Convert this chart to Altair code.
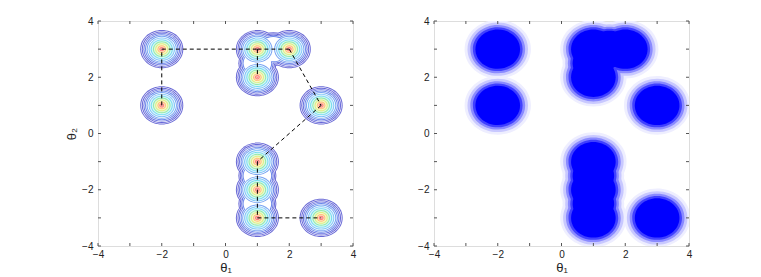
import altair as alt
import pandas as pd

# ---------------- data ----------------
CENTERS_X = [-2, -2, 1, 2, 1, 3, 1, 1, 1, 3]
CENTERS_Y = [3, 1, 3, 3, 2, 1, -1, -2, -3, -3]

# waists where neighbouring modes visibly merge
BRIDGE_X = [1, 1, 1.5, 1]
BRIDGE_Y = [-1.5, -2.5, 3, 2.5]

# contour ring radii (theta units) around every mode, outer -> inner
RING_RADII = [0.66, 0.61, 0.56, 0.51, 0.46, 0.40, 0.33, 0.26, 0.19, 0.12, 0.06]

# dashed tree edges
EDGE_X1 = [-2, -2, 1, 1, 2, 3, 1, 1, 1]
EDGE_Y1 = [1, 3, 3, 3, 3, 1, -1, -2, -3]
EDGE_X2 = [-2, 1, 2, 1, 3, 1, 1, 1, 3]
EDGE_Y2 = [3, 3, 3, 2, 1, -1, -2, -3, -3]

# sample-cloud extents (theta units), sparse edge -> dense core
CLOUD_RADII = [1.04, 0.95, 0.86, 0.78, 0.70]

TICKS = [-4, -3, -2, -1, 0, 1, 2, 3, 4]

# ---------------- styles ----------------
RING_LINE = ["#6a6ad6", "#6666d8", "#6672e0", "#6c88ea", "#78a4f2",
             "#7cc6f6", "#74deec", "#94eaa8", "#e0ee84", "#ffc07c", "#ff8080"]
RING_GAP = ["white", "white", "white", "white", "white",
            "#dceeff", "#d6f6f8", "#e0f8dc", "#f8f8c8", "#ffe0c0", "#ffb4ac"]
BRIDGE_LEVELS = 4
BRIDGE_FACTOR = 0.88
CLOUD_COLORS = ["#eeeeff", "#c8c8ff", "#8a8aff", "#4040ff", "#0000ff"]
CLOUD_BRIDGE_FACTOR = 0.93

W, H = 255, 225
PX = W / 8.0                      # pixels per theta unit (x)
ASPECT = (H / 8.0) / (W / 8.0)    # ellipse y/x ratio
HALF_LINE = 0.5 / PX
ELLIPSE = (f"M -1 0 A 1 {ASPECT:.4f} 0 1 0 1 0 "
           f"A 1 {ASPECT:.4f} 0 1 0 -1 0 Z")
FONT = "Liberation Sans"

rows = []
for k, r in enumerate(RING_RADII):
    pts = list(zip(CENTERS_X, CENTERS_Y))
    if k < BRIDGE_LEVELS:
        pts_b = list(zip(BRIDGE_X, BRIDGE_Y))
    else:
        pts_b = []
    for cx, cy in pts:
        rows.append(dict(x=cx, y=cy, r=r + HALF_LINE, col=RING_LINE[k], o=2 * k))
    for cx, cy in pts_b:
        rows.append(dict(x=cx, y=cy, r=r * BRIDGE_FACTOR + HALF_LINE, col=RING_LINE[k], o=2 * k))
    for cx, cy in pts:
        rows.append(dict(x=cx, y=cy, r=r - HALF_LINE, col=RING_GAP[k], o=2 * k + 1))
    for cx, cy in pts_b:
        rows.append(dict(x=cx, y=cy, r=r * BRIDGE_FACTOR - HALF_LINE, col=RING_GAP[k], o=2 * k + 1))
rings = pd.DataFrame(rows)

crow = []
for k, r in enumerate(CLOUD_RADII):
    for cx, cy in zip(CENTERS_X, CENTERS_Y):
        crow.append(dict(x=cx, y=cy, r=r, col=CLOUD_COLORS[k], o=k))
    for cx, cy in zip(BRIDGE_X, BRIDGE_Y):
        crow.append(dict(x=cx, y=cy, r=r * CLOUD_BRIDGE_FACTOR, col=CLOUD_COLORS[k], o=k))
clouds = pd.DataFrame(crow)

edges = pd.DataFrame(dict(x=EDGE_X1, y=EDGE_Y1, x2=EDGE_X2, y2=EDGE_Y2))
ticks = pd.DataFrame(dict(t=TICKS))

xscale = alt.Scale(domain=[-4, 4], nice=False, zero=False)
yscale = alt.Scale(domain=[-4, 4], nice=False, zero=False)
sscale = alt.Scale(type="pow", exponent=2, domain=[0, 1], range=[0, (2 * PX) ** 2])


def xaxis():
    return alt.Axis(values=TICKS, ticks=False, domain=False, grid=False,
                    labelFlush=False, labelFontSize=10, labelFont=FONT,
                    labelColor="#222", labelPadding=3, title="θ₁",
                    titleFont=FONT, titleFontSize=13, titleFontWeight="normal",
                    titleColor="#222", titlePadding=2)


def yaxis(title):
    kw = dict(values=TICKS, ticks=False, domain=False, grid=False,
              labelFlush=False, labelFontSize=10, labelFont=FONT,
              labelColor="#222", labelPadding=5)
    if title:
        kw.update(title=title, titleFont=FONT, titleFontSize=13,
                  titleFontWeight="normal", titleColor="#222", titlePadding=3)
    else:
        kw.update(title=None)
    return alt.Axis(**kw)


def tick_layers():
    base = alt.Chart(ticks).mark_rule(color="#555", strokeWidth=1)
    return [
        base.encode(x=alt.X("t:Q", scale=xscale), y=alt.value(H), y2=alt.value(H - 3)),
        base.encode(x=alt.X("t:Q", scale=xscale), y=alt.value(0), y2=alt.value(3)),
        base.encode(y=alt.Y("t:Q", scale=yscale), x=alt.value(0), x2=alt.value(3)),
        base.encode(y=alt.Y("t:Q", scale=yscale), x=alt.value(W), x2=alt.value(W - 3)),
    ]


def blobs(df, ytitle):
    return alt.Chart(df).mark_point(shape=ELLIPSE, filled=True, opacity=1,
                                    strokeWidth=0, clip=True).encode(
        x=alt.X("x:Q", scale=xscale, axis=xaxis()),
        y=alt.Y("y:Q", scale=yscale, axis=yaxis(ytitle)),
        size=alt.Size("r:Q", scale=sscale, legend=None),
        color=alt.Color("col:N", scale=None),
        order=alt.Order("o:Q"),
    )


dash = alt.Chart(edges).mark_rule(color="black", strokeWidth=1, strokeDash=[4, 3]).encode(
    x=alt.X("x:Q", scale=xscale), y=alt.Y("y:Q", scale=yscale),
    x2="x2:Q", y2="y2:Q")

left = alt.layer(blobs(rings, "θ₂"), dash, *tick_layers()).properties(width=W, height=H)
right = alt.layer(blobs(clouds, None), *tick_layers()).properties(width=W, height=H)

chart = alt.hconcat(left, right, spacing=81, bounds="flush").properties(
    padding={"left": 57, "top": 7, "right": 10, "bottom": 5}
).configure_view(stroke="#222", strokeWidth=1).configure(background="white")

chart.save("out.html", embed_options={"renderer": "svg", "actions": False})
